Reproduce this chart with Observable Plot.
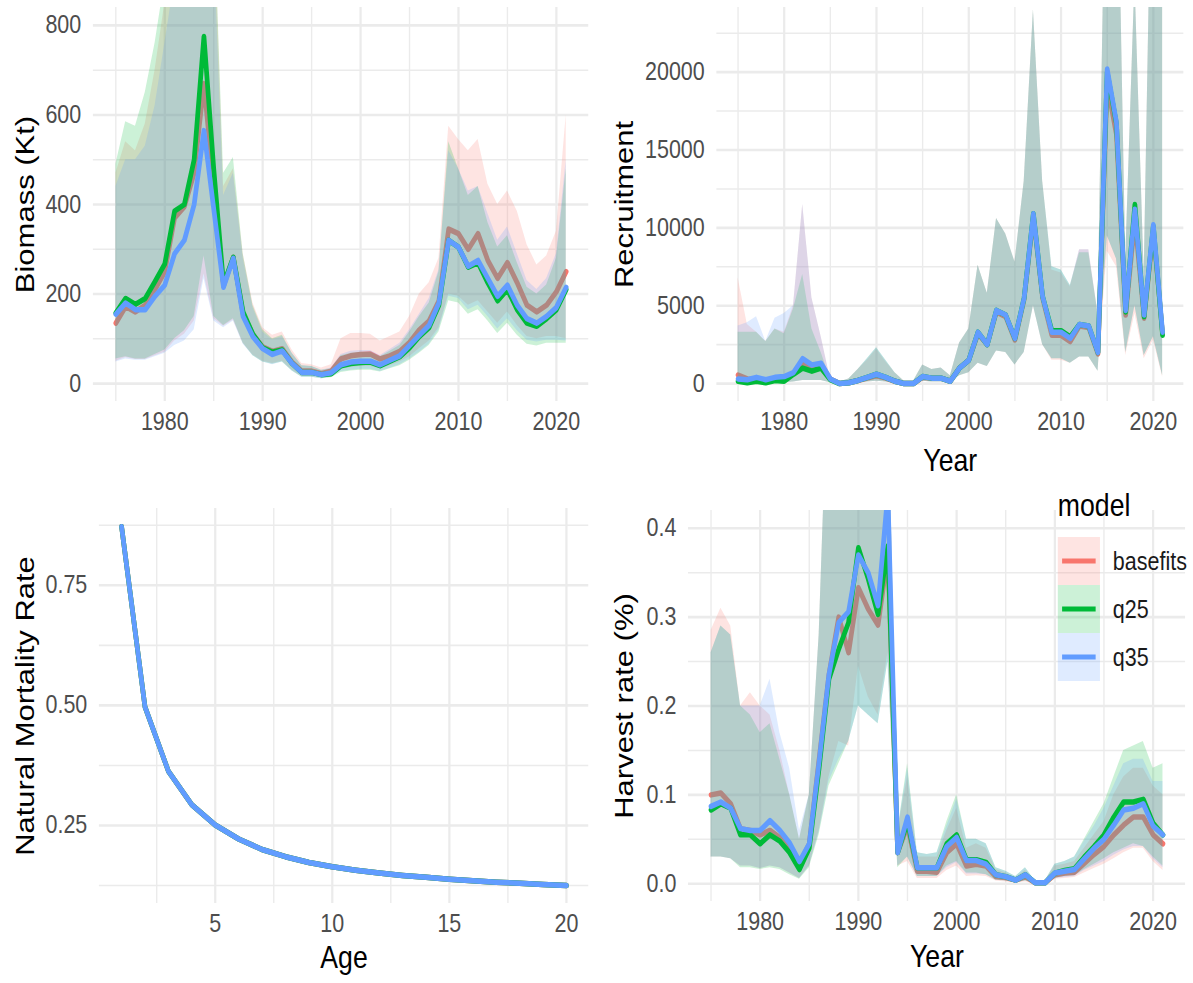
<!DOCTYPE html>
<html>
<head>
<meta charset="utf-8">
<script src="https://cdn.jsdelivr.net/npm/d3@7"></script>
<script src="https://cdn.jsdelivr.net/npm/@observablehq/plot@0.6"></script>
<style>
  html, body { margin: 0; padding: 0; background: #fff; overflow: hidden; }
  #wrap { position: absolute; left: 0; top: 0; width: 1387px; height: 983px;
          transform: scaleX(0.86); transform-origin: 0 0;
          font-family: "Liberation Sans", Arial, sans-serif; }
  #wrap > svg { position: absolute; }
</style>
</head>
<body>
<div id="wrap"></div>
<script>
// ---------------- data ----------------
const years = [1975,1976,1977,1978,1979,1980,1981,1982,1983,1984,1985,1986,1987,1988,1989,1990,1991,1992,1993,1994,1995,1996,1997,1998,1999,2000,2001,2002,2003,2004,2005,2006,2007,2008,2009,2010,2011,2012,2013,2014,2015,2016,2017,2018,2019,2020,2021];
const models = ["basefits", "q25", "q35"];
const modelColors = ["#F8766D", "#00BA38", "#619CFF"];

// Biomass (Kt)
const bio_basefits = [135,172,160,175,210,250,370,395,470,670, 440,218,282,155,110,82,72,78,48,28, 28,22,28,55,62,65,66,55,62,72, 92,120,140,185,345,335,300,335,275,235, 270,225,175,160,175,205,250];
const bio_q25      = [158,190,177,190,228,267,385,400,500,775, 480,222,282,160,110,80,70,75,45,25, 25,20,22,40,45,47,48,40,50,60, 80,105,125,175,320,305,260,270,225,185, 210,165,135,128,145,165,210];
const bio_q35      = [155,180,165,165,195,220,290,320,400,565, 390,215,280,150,105,78,65,73,45,25, 25,20,24,42,48,50,50,42,52,62, 85,108,130,180,320,305,262,275,235,195, 220,175,145,135,150,170,215];
const bioLo_basefits = [50,58,54,54,62,70,95,110,140,245, 145,128,142,90,64,50,45,50,30,16, 16,13,16,32,36,38,38,33,40,48, 60,78,95,125,200,195,175,185,160,135, 160,130,105,100,105,105,100];
const bioLo_q25      = [55,60,55,55,65,75,100,118,150,285, 150,130,145,90,62,48,43,48,28,14, 14,11,13,25,28,30,30,26,33,40, 52,68,85,115,185,180,155,165,140,112, 135,108,88,84,90,90,90];
const bioLo_q35      = [48,55,52,52,60,68,85,95,120,235, 140,125,140,88,62,48,42,48,28,14, 14,11,14,27,30,32,32,27,34,42, 55,70,88,120,195,190,165,175,150,122, 145,118,97,93,97,97,95];
const bioHi_basefits = [470,540,520,580,700,850,1000,1100,1300,1700, 1100,440,480,290,180,125,108,115,75,45, 42,35,42,100,112,112,110,95,105,115, 150,200,225,280,575,545,520,545,445,400, 430,385,310,265,285,340,600];
const bioHi_q25      = [490,585,575,650,760,900,1000,1100,1300,1600, 1100,470,505,290,175,120,100,108,68,40, 38,30,33,62,68,70,70,60,72,85, 115,150,180,250,540,480,420,440,360,305, 330,270,215,200,220,280,480];
const bioHi_q35      = [440,500,500,530,620,760,900,1000,1200,1500, 1000,420,470,280,170,115,98,105,68,40, 38,30,35,65,72,74,74,63,76,90, 120,155,190,255,520,480,430,440,380,320, 350,290,230,210,235,290,500];
const bioTicks = [0, 200, 400, 600, 800];
const bioMinor = [100, 300, 500, 700];

// Recruitment
const rec_basefits = [550,300,250,200,250,300,650,1300,1000,1200, 300,0,50,200,350,500,350,150,0,0, 400,350,350,150,1000,1500,3200,2500,4600,4300, 2800,5400,10700,5500,3100,3100,2700,3700,3600,1900, 19200,16000,4400,10500,4200,9800,3200];
const rec_q25      = [150,50,150,50,200,150,600,1000,800,1000, 250,0,50,200,400,600,400,150,0,0, 450,350,350,150,1000,1500,3300,2500,4700,4400, 2900,5500,10900,5600,3400,3400,3000,3800,3700,2000, 20000,16700,4600,11500,4300,10100,3100];
const rec_q35      = [300,250,400,250,400,450,700,1600,1200,1300, 300,0,50,200,400,600,400,150,0,0, 450,350,350,150,1000,1500,3300,2500,4700,4400, 2900,5500,10900,5600,3300,3300,2900,3800,3700,2000, 20200,16800,4700,11200,4400,10200,3300];
const recLo_basefits = [50,50,50,50,50,50,100,200,200,200, 50,0,0,50,100,150,100,30,0,0, 150,100,100,50,500,700,1300,1100,2100,2000, 1200,2000,5000,2500,1500,1500,1300,1700,1700,800, 8500,7500,1800,4500,1600,2800,400];
const recLo_q25      = [50,50,50,50,50,50,100,200,200,200, 50,0,0,50,100,150,100,30,0,0, 150,100,100,50,500,700,1300,1100,2100,2000, 1200,2000,5000,2500,1600,1600,1300,1700,1700,800, 9500,8000,2000,5000,1800,3000,500];
const recLo_q35      = [50,50,50,50,50,50,100,200,200,200, 50,0,0,50,100,150,100,30,0,0, 150,100,100,50,500,700,1300,1100,2100,2000, 1200,2000,5000,2500,1600,1600,1300,1700,1700,800, 9500,8000,2000,5000,1800,3000,500];
const recHi_basefits = [6800,3800,3300,2700,3500,3300,5000,11500,5500,3000, 300,100,300,900,1500,2200,1400,700,150,150, 1200,900,1000,500,2600,3500,7600,5800,10600,9600, 7800,13000,24000,13000,7300,7100,6200,8600,8600,4500, 40000,40000,8000,26000,7000,40000,40000];
const recHi_q25      = [3300,3300,3300,2700,3500,3200,4800,7000,3500,2000, 300,100,300,900,1600,2300,1500,700,150,150, 1200,900,1000,500,2600,3500,7600,5800,10600,9600, 7800,13000,24000,13000,7500,7300,6300,8400,8400,4500, 40000,40000,8000,26000,7000,40000,40000];
const recHi_q35      = [3700,3900,4300,2700,4200,4500,5000,11500,5500,3000, 300,100,300,900,1600,2300,1500,700,150,150, 1200,900,1000,500,2600,3500,7600,5800,10600,9600, 7800,13000,24000,13000,7500,7300,6300,8600,8600,4500, 40000,40000,8000,26000,7000,40000,40000];
const recTicks = [0, 5000, 10000, 15000, 20000];
const recMinor = [2500, 7500, 12500, 17500, 22500];

// Natural mortality by age
const ages = [1,2,3,4,5,6,7,8,9,10,11,12,13,14,15,16,17,18,19,20];
const mort_basefits = [0.872,0.497,0.363,0.293,0.251,0.222,0.200,0.185,0.173,0.164,0.157,0.151,0.146,0.142,0.138,0.135,0.132,0.130,0.127,0.125];
const mort_q25      = [0.872,0.497,0.363,0.293,0.251,0.222,0.200,0.185,0.173,0.164,0.157,0.151,0.146,0.142,0.138,0.135,0.132,0.130,0.127,0.125];
const mort_q35      = [0.872,0.497,0.363,0.293,0.251,0.222,0.200,0.185,0.173,0.164,0.157,0.151,0.146,0.142,0.138,0.135,0.132,0.130,0.127,0.125];
const ageTicks = [5, 10, 15, 20];
const ageMinor = [2.5, 7.5, 12.5, 17.5];
const mortTicks = [0.25, 0.50, 0.75];
const mortMinor = [0.125, 0.375, 0.625, 0.875];

// Harvest rate
const hr_basefits = [0.100,0.102,0.090,0.062,0.060,0.055,0.060,0.052,0.040,0.022, 0.045,0.140,0.235,0.300,0.260,0.333,0.309,0.291,0.370,0.035, 0.065,0.014,0.014,0.013,0.035,0.045,0.020,0.022,0.020,0.008, 0.007,0.004,0.008,0.001,0.001,0.010,0.012,0.013,0.023,0.033, 0.042,0.055,0.066,0.075,0.075,0.055,0.045];
const hr_q25      = [0.083,0.090,0.085,0.055,0.055,0.045,0.055,0.048,0.035,0.016, 0.040,0.130,0.230,0.264,0.294,0.378,0.343,0.303,0.380,0.035, 0.070,0.018,0.018,0.018,0.045,0.055,0.027,0.027,0.024,0.010, 0.008,0.004,0.010,0.001,0.001,0.012,0.015,0.017,0.030,0.042, 0.055,0.075,0.092,0.092,0.095,0.068,0.055];
const hr_q35      = [0.087,0.092,0.085,0.062,0.060,0.060,0.071,0.060,0.046,0.025, 0.045,0.137,0.235,0.294,0.306,0.370,0.350,0.313,0.440,0.035, 0.075,0.018,0.018,0.018,0.042,0.052,0.026,0.026,0.022,0.010, 0.008,0.004,0.010,0.001,0.001,0.012,0.014,0.016,0.028,0.040, 0.050,0.066,0.083,0.085,0.090,0.065,0.055];
const hrLo_basefits = [0.030,0.030,0.028,0.020,0.020,0.017,0.020,0.018,0.012,0.006, 0.020,0.060,0.120,0.160,0.155,0.245,0.210,0.190,0.260,0.020, 0.025,0.006,0.006,0.006,0.015,0.020,0.008,0.009,0.008,0.003, 0.002,0.001,0.002,0,0,0.005,0.006,0.007,0.012,0.017, 0.022,0.028,0.035,0.040,0.040,0.025,0.015];
const hrLo_q25      = [0.030,0.030,0.028,0.018,0.018,0.016,0.018,0.016,0.010,0.005, 0.018,0.055,0.110,0.135,0.160,0.200,0.190,0.180,0.250,0.018, 0.030,0.008,0.008,0.008,0.020,0.025,0.012,0.012,0.010,0.004, 0.003,0.001,0.003,0,0,0.006,0.008,0.009,0.016,0.022, 0.028,0.035,0.040,0.045,0.042,0.030,0.020];
const hrLo_q35      = [0.030,0.030,0.028,0.020,0.020,0.017,0.020,0.018,0.012,0.006, 0.020,0.058,0.115,0.140,0.160,0.200,0.190,0.180,0.250,0.020, 0.030,0.008,0.008,0.008,0.018,0.024,0.011,0.011,0.010,0.004, 0.003,0.001,0.003,0,0,0.006,0.007,0.008,0.015,0.020, 0.025,0.032,0.038,0.042,0.042,0.028,0.018];
const hrHi_basefits = [0.285,0.310,0.290,0.200,0.215,0.200,0.190,0.150,0.100,0.050, 0.100,0.280,0.600,0.600,0.600,0.600,0.600,0.600,0.600,0.060, 0.120,0.030,0.030,0.030,0.060,0.085,0.040,0.045,0.040,0.016, 0.012,0.007,0.015,0.003,0.003,0.020,0.022,0.025,0.040,0.055, 0.070,0.100,0.120,0.130,0.130,0.110,0.100];
const hrHi_q25      = [0.260,0.290,0.280,0.200,0.190,0.170,0.180,0.140,0.100,0.050, 0.100,0.280,0.600,0.600,0.600,0.600,0.600,0.600,0.600,0.060, 0.135,0.035,0.033,0.035,0.070,0.100,0.050,0.050,0.045,0.018, 0.014,0.008,0.018,0.003,0.003,0.022,0.025,0.030,0.050,0.070, 0.090,0.120,0.150,0.155,0.160,0.130,0.135];
const hrHi_q35      = [0.260,0.290,0.280,0.200,0.200,0.200,0.230,0.170,0.130,0.060, 0.100,0.280,0.600,0.600,0.600,0.600,0.600,0.600,0.600,0.060, 0.130,0.035,0.033,0.035,0.065,0.095,0.050,0.050,0.045,0.018, 0.014,0.008,0.018,0.003,0.003,0.022,0.025,0.030,0.048,0.065, 0.085,0.110,0.135,0.140,0.140,0.115,0.115];
const hrTicks = [0, 0.1, 0.2, 0.3, 0.4];
const hrMinor = [0.05, 0.15, 0.25, 0.35];

const yearTicks = [1980, 1990, 2000, 2010, 2020];
const yearMinor = [1975, 1985, 1995, 2005, 2015];

// ---------------- helpers ----------------
function tidy(xs, mids, los, his) {
  return models.flatMap((m, k) => xs.map((x, i) => ({
    model: m, x, y: mids[k][i],
    lo: los ? los[k][i] : null, hi: his ? his[k][i] : null
  })));
}

const GRID = "#ebebeb";
const TICK_COLOR = "#4d4d4d";
const FONT = "Liberation Sans, Arial, sans-serif";
const TICK_SIZE = 25;
const TITLE_SIZE = 31;

function panel({data, ribbons, xDomain, yDomain, xTicks, xMinor, yTicks, yMinor,
                xFormat, yFormat, xTitle, yTitle, yTitleDx, xTitleDy,
                width, height, margins, left, top}) {
  const by = m => data.filter(d => d.model === m);
  const rib = m => Plot.areaY(by(m), {x: "x", y1: "lo", y2: "hi", fill: "model", fillOpacity: 0.2, clip: true});
  const ln = m => Plot.line(by(m), {x: "x", y: "y", stroke: "model", strokeWidth: 5.5, clip: true});
  const layers = ribbons
    ? [rib("basefits"), ln("basefits"), rib("q25"), rib("q35"), ln("q25"), ln("q35")]
    : [ln("basefits"), ln("q25"), ln("q35")];
  const marks = [
    Plot.ruleY(yMinor, {stroke: GRID, strokeWidth: 1.6}),
    Plot.ruleX(xMinor, {stroke: GRID, strokeWidth: 1.6}),
    Plot.ruleY(yTicks, {stroke: GRID, strokeWidth: 2.6}),
    Plot.ruleX(xTicks, {stroke: GRID, strokeWidth: 2.6}),
    ...layers,
    Plot.axisX({ticks: xTicks, tickSize: 0, tickPadding: 11, tickFormat: xFormat, label: null, fontSize: TICK_SIZE}),
    Plot.axisY({ticks: yTicks, tickSize: 0, tickPadding: 14, tickFormat: yFormat, label: null, fontSize: TICK_SIZE}),
    Plot.text([yTitle], {frameAnchor: "left", textAnchor: "middle", lineAnchor: "middle",
                         rotate: -90, dx: yTitleDx, fontSize: TITLE_SIZE, fill: "#000"})
  ];
  if (xTitle) marks.push(Plot.text([xTitle], {frameAnchor: "bottom", textAnchor: "middle", lineAnchor: "middle",
                                              dy: xTitleDy, fontSize: TITLE_SIZE, fill: "#000"}));
  const svg = Plot.plot({
    width, height,
    marginLeft: margins[0], marginRight: margins[1], marginTop: margins[2], marginBottom: margins[3],
    x: {domain: xDomain},
    y: {domain: yDomain},
    color: {domain: models, range: modelColors},
    style: {background: "transparent", fontFamily: FONT, fontSize: TICK_SIZE + "px", color: TICK_COLOR, overflow: "visible"},
    marks
  });
  svg.style.left = left + "px";
  svg.style.top = top + "px";
  return svg;
}

const wrap = document.getElementById("wrap");

wrap.appendChild(panel({
  data: tidy(years, [bio_basefits, bio_q25, bio_q35], [bioLo_basefits, bioLo_q25, bioLo_q35], [bioHi_basefits, bioHi_q25, bioHi_q35]),
  ribbons: true, xDomain: [1972.7, 2023.3], yDomain: [-40, 840],
  xTicks: yearTicks, xMinor: yearMinor, yTicks: bioTicks, yMinor: bioMinor,
  xFormat: "d", yFormat: "d", xTitle: null, yTitle: "Biomass (Kt)", yTitleDx: -79, xTitleDy: 0,
  width: 700, height: 480, margins: [108, 16, 7, 79], left: 0, top: 0
}));

wrap.appendChild(panel({
  data: tidy(years, [rec_basefits, rec_q25, rec_q35], [recLo_basefits, recLo_q25, recLo_q35], [recHi_basefits, recHi_q25, recHi_q35]),
  ribbons: true, xDomain: [1972.7, 2023.3], yDomain: [-1150, 24150],
  xTicks: yearTicks, xMinor: yearMinor, yTicks: recTicks, yMinor: recMinor,
  xFormat: "d", yFormat: "d", xTitle: "Year", yTitle: "Recruitment", yTitleDx: -107, xTitleDy: 60,
  width: 687, height: 480, margins: [133, 11, 7, 79], left: 700, top: 0
}));

wrap.appendChild(panel({
  data: tidy(ages, [mort_basefits, mort_q25, mort_q35], null, null),
  ribbons: false, xDomain: [0.05, 20.95], yDomain: [0.0876, 0.9099],
  xTicks: ageTicks, xMinor: ageMinor, yTicks: mortTicks, yMinor: mortMinor,
  xFormat: "d", yFormat: ".2f", xTitle: "Age", yTitle: "Natural Mortality Rate", yTitleDx: -86, xTitleDy: 55,
  width: 700, height: 503, margins: [115, 16, 28, 80], left: 0, top: 480
}));

wrap.appendChild(panel({
  data: tidy(years, [hr_basefits, hr_q25, hr_q35], [hrLo_basefits, hrLo_q25, hrLo_q35], [hrHi_basefits, hrHi_q25, hrHi_q35]),
  ribbons: true, xDomain: [1972.7, 2023.3], yDomain: [-0.02, 0.42],
  xTicks: yearTicks, xMinor: yearMinor, yTicks: hrTicks, yMinor: hrMinor,
  xFormat: "d", yFormat: ".1f", xTitle: "Year", yTitle: "Harvest rate (%)", yTitleDx: -74, xTitleDy: 56,
  width: 687, height: 503, margins: [100, 9, 30, 82], left: 700, top: 480
}));

// ---------------- legend ----------------
const leg = d3.create("svg")
  .attr("width", 170).attr("height", 210)
  .style("left", "1222px").style("top", "482px").style("overflow", "visible")
  .style("font-family", FONT);
leg.append("text").attr("x", 8).attr("y", 34).attr("font-size", TITLE_SIZE).attr("fill", "#000").text("model");
models.forEach((m, i) => {
  const g = leg.append("g").attr("transform", `translate(8,${55 + 48 * i})`);
  g.append("rect").attr("width", 49).attr("height", 48).attr("fill", modelColors[i]).attr("fill-opacity", 0.2);
  g.append("line").attr("x1", 5).attr("x2", 44).attr("y1", 24).attr("y2", 24)
    .attr("stroke", modelColors[i]).attr("stroke-width", 5);
  g.append("text").attr("x", 64).attr("y", 24).attr("dy", "0.35em").attr("font-size", TICK_SIZE)
    .attr("fill", "#1a1a1a").text(m);
});
wrap.appendChild(leg.node());
</script>
</body>
</html>
